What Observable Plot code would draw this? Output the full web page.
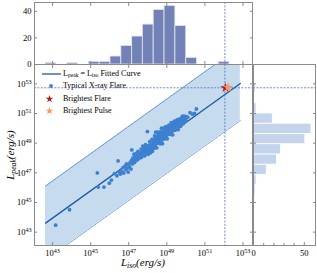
<!DOCTYPE html>
<html><head><meta charset="utf-8">
<script src="https://cdn.jsdelivr.net/npm/d3@7"></script>
<script src="https://cdn.jsdelivr.net/npm/@observablehq/plot@0.6"></script>
<style>
body{margin:0;background:#fff;}
#wrap{position:relative;width:317px;height:273px;font-family:"Liberation Serif",serif;color:#000;overflow:hidden;}
#wrap > svg{position:absolute;left:0;top:0;}
.lbl{position:absolute;font-style:italic;font-size:11px;white-space:nowrap;line-height:12px;text-align:center;}
.lbl sub,.leg sub{font-size:0.7em;vertical-align:-0.25em;line-height:0;}
.leg{position:absolute;left:40px;top:68px;font-size:8px;line-height:12.3px;white-space:nowrap;}
.leg .row{display:flex;align-items:center;height:12.3px;}
.leg svg{width:23px;height:12px;flex:none;}
</style></head>
<body><div id="wrap"></div>
<script>
// ---- data (log10 values, erg/s) ----
const xTicks = [43, 45, 47, 49, 51, 53];
const yTicks = [43, 45, 47, 49, 51, 53];
const topCountTicks = [0, 20, 40];
const rightCountTicks = [0, 50];
const rightMinorTicks = [10, 20, 30, 40];

const logIso = [
43.16,43.89,45.35,45.40,45.70,45.98,
46.09,46.25,46.38,46.44,46.50,46.56,
46.65,46.70,46.74,46.80,46.85,46.88,46.92,46.97,47.00,47.04,47.08,47.12,47.16,47.15,
47.20,47.22,47.25,47.28,47.31,47.34,47.37,47.40,47.43,47.46,47.49,47.51,47.54,47.57,47.60,47.62,47.65,47.67,47.70,47.72,47.74,
47.76,47.78,47.80,47.82,47.84,47.86,47.88,47.90,47.92,47.94,47.96,47.98,48.00,48.02,48.04,48.06,48.08,48.10,48.12,48.14,48.16,48.18,48.20,48.22,48.24,48.25,48.27,48.28,48.29,48.30,
48.32,48.33,48.35,48.36,48.38,48.39,48.41,48.42,48.44,48.45,48.47,48.48,48.50,48.51,48.53,48.54,48.56,48.57,48.59,48.60,48.62,48.63,48.65,48.66,48.68,48.69,48.71,48.72,48.74,48.75,48.77,48.78,48.80,48.81,48.83,48.84,48.85,48.86,48.87,48.87,48.88,
48.89,48.90,48.91,48.93,48.94,48.95,48.96,48.98,48.99,49.00,49.02,49.03,49.04,49.06,49.07,49.08,49.10,49.11,49.12,49.14,49.15,49.16,49.18,49.19,49.20,49.22,49.23,49.24,49.26,49.27,49.28,49.30,49.31,49.32,49.34,49.35,49.36,49.38,49.39,49.40,49.41,49.42,49.43,49.44,
49.46,49.48,49.50,49.52,49.54,49.56,49.58,49.60,49.62,49.64,49.66,49.68,49.70,49.72,49.74,49.76,49.78,49.80,49.82,49.84,49.86,49.88,49.90,49.92,49.94,49.96,49.98,50.00,50.01,
50.10,50.22,50.35,50.45,50.55
];
const logPeak = [
43.47,44.51,46.99,46.04,46.04,46.30,
46.51,46.95,46.80,47.80,47.05,46.92,
47.10,47.35,46.98,47.45,47.20,47.60,47.30,47.05,47.55,47.40,47.70,47.25,48.54,47.85,
47.60,48.00,47.80,48.25,47.70,48.05,47.90,48.30,47.85,48.10,48.45,47.95,48.20,48.00,48.35,48.15,48.60,48.05,48.40,48.25,48.80,
48.20,48.55,48.35,48.70,48.15,48.45,48.90,48.30,48.60,48.40,48.75,49.78,48.50,48.25,48.65,48.85,48.45,49.10,48.60,48.35,48.75,48.95,48.55,49.25,48.70,48.45,48.90,49.05,48.65,48.80,
48.94,49.25,48.67,49.48,49.10,48.81,49.23,49.74,48.96,49.46,48.68,49.24,49.46,49.17,49.74,49.00,49.42,49.62,49.14,49.30,49.22,49.53,48.95,49.76,49.38,49.09,49.50,50.01,49.23,49.74,48.96,49.52,49.74,49.45,50.01,49.27,49.68,49.89,49.40,49.55,49.66,
49.67,49.38,49.89,49.61,50.11,49.32,49.83,49.55,50.06,49.72,49.29,49.95,49.66,49.88,50.08,49.59,49.86,50.22,49.78,50.00,49.61,50.12,49.94,49.65,50.15,49.87,50.38,49.59,50.11,49.82,50.33,50.00,49.56,50.21,49.93,50.14,50.35,49.87,50.13,50.49,50.05,50.26,49.87,50.38,
50.09,50.41,49.93,50.30,50.57,50.14,50.40,49.92,50.34,50.61,50.18,50.55,50.36,50.13,50.65,50.47,50.34,50.61,50.82,50.44,50.31,50.63,50.80,50.42,50.64,50.80,50.57,50.79,50.50,
50.75,51.05,50.95,51.00,51.30
];
const flareIso = [52.08], flarePeak = [52.73];
const pulseIso = [52.22], pulsePeak = [52.76];
const refIso = [52.05], refPeak = [52.73];

const fitIso = [42.63, 52.86];
const fitPeak = [43.61, 53.02];
const bandUpper = [46.11, 55.52];
const bandLower = [41.11, 50.52];

const topBinEdges = [42.63,43.20,43.77,44.33,44.90,45.47,46.04,46.61,47.18,47.74,48.31,48.88,49.45,50.02,50.59,51.15,51.72,52.29,52.86];
const topCounts = [1,0,1,0,2,2,6,14,21,30,41,44,29,5,0,0,2,0];
const rightBinEdges = [43.41,44.10,44.79,45.48,46.17,46.86,47.55,48.24,48.93,49.62,50.31,51.00,51.69,52.38,53.07];
const rightCounts = [1,1,0,2,3,13,23,27,51,57,19,3,0,2];

// ---- tables ----
const pts = logIso.map((x, i) => ({x, y: logPeak[i]}));
const flare = flareIso.map((x, i) => ({x, y: flarePeak[i]}));
const pulse = pulseIso.map((x, i) => ({x, y: pulsePeak[i]}));
const band = fitIso.map((x, i) => ({x, fit: fitPeak[i], hi: bandUpper[i], lo: bandLower[i]}));
const topBins = topCounts.map((c, i) => ({x1: topBinEdges[i], x2: topBinEdges[i + 1], c})).filter(d => d.c > 0);
const rightBins = rightCounts.map((c, i) => ({y1: rightBinEdges[i], y2: rightBinEdges[i + 1], c})).filter(d => d.c > 0);

// ---- styles ----
const W = 317, H = 273;
const frameColor = "#8a8a8a";
const dash = {stroke: "#4f6bc2", strokeWidth: 0.8, strokeDasharray: "2,1.4"};
const common = {
  width: W, height: H,
  style: {background: "transparent", fontFamily: '"Liberation Serif", serif', fontSize: "8.5px", color: "#000", overflow: "visible"}
};
const xDom = [42.05, 53.5], yDom = [42.1, 54.3];
const pow = d => `10^${d}`;
const none = () => "";
const tickStyle = {stroke: frameColor, tickSize: -3, label: null};

const topPlot = Plot.plot({
  ...common,
  marginLeft: 34, marginRight: 65, marginTop: 2, marginBottom: 209,
  x: {domain: xDom}, y: {domain: [0, 46.6]},
  marks: [
    Plot.rectY(topBins, {x1: "x1", x2: "x2", y: "c", fill: "#7382b6", stroke: "#e4e7f2", strokeWidth: 0.8}),
    Plot.ruleX(refIso, dash),
    Plot.axisY({...tickStyle, ticks: topCountTicks, tickPadding: 6}),
    Plot.axisY({...tickStyle, anchor: "right", ticks: topCountTicks, tickFormat: none}),
    Plot.axisX({...tickStyle, ticks: xTicks, tickFormat: none}),
    Plot.axisX({...tickStyle, anchor: "top", ticks: xTicks, tickFormat: none}),
    Plot.frame({stroke: frameColor})
  ]
});

const mainPlot = Plot.plot({
  ...common,
  marginLeft: 34, marginRight: 65, marginTop: 64, marginBottom: 28,
  x: {domain: xDom}, y: {domain: yDom},
  marks: [
    Plot.areaY(band, {x: "x", y1: "lo", y2: "hi", fill: "#c7dbef", clip: true}),
    Plot.line(band, {x: "x", y: "hi", stroke: "#3b7dd0", strokeWidth: 0.7, strokeDasharray: "2.5,1", clip: true}),
    Plot.line(band, {x: "x", y: "lo", stroke: "#3b7dd0", strokeWidth: 0.7, strokeDasharray: "2.5,1", clip: true}),
    Plot.line(band, {x: "x", y: "fit", stroke: "#1a5aa6", strokeWidth: 1.3, clip: true}),
    Plot.dot(pts, {x: "x", y: "y", r: 1.9, fill: "#3d80cf"}),
    Plot.ruleX(refIso, dash),
    Plot.ruleY(refPeak, dash),
    Plot.dot(flare, {x: "x", y: "y", symbol: "star", r: 3.2, fill: "#a52222"}),
    Plot.dot(pulse, {x: "x", y: "y", symbol: "star", r: 3.2, fill: "#f49a5e"}),
    Plot.axisX({...tickStyle, ticks: xTicks, tickFormat: pow, tickPadding: 7}),
    Plot.axisX({...tickStyle, anchor: "top", ticks: xTicks, tickFormat: none}),
    Plot.axisY({...tickStyle, ticks: yTicks, tickFormat: pow, tickPadding: 6}),
    Plot.axisY({...tickStyle, anchor: "right", ticks: yTicks, tickFormat: none}),
    Plot.frame({stroke: frameColor})
  ]
});

const rightPlot = Plot.plot({
  ...common,
  marginLeft: 253, marginRight: 2, marginTop: 64, marginBottom: 28,
  x: {domain: [0, 61]}, y: {domain: yDom},
  marks: [
    Plot.rectX(rightBins, {y1: "y1", y2: "y2", x: "c", fill: "#c3d4ec", stroke: "#ffffff", strokeWidth: 0.8}),
    Plot.ruleY(refPeak, dash),
    Plot.axisX({...tickStyle, ticks: rightCountTicks, tickPadding: 7}),
    Plot.axisX({...tickStyle, ticks: rightMinorTicks, tickSize: -2, tickFormat: none}),
    Plot.axisY({...tickStyle, ticks: yTicks, tickFormat: none}),
    Plot.axisY({...tickStyle, anchor: "right", ticks: yTicks, tickFormat: none}),
    Plot.frame({stroke: frameColor})
  ]
});

function superscripts(svg) {
  d3.select(svg).selectAll("text").each(function () {
    const m = /^10\^(-?\d+)$/.exec(this.textContent);
    if (!m) return;
    const t = d3.select(this);
    t.text(null);
    t.append("tspan").text("10");
    t.append("tspan").attr("dy", "-0.45em").attr("font-size", "0.72em").text(m[1]);
  });
}
superscripts(mainPlot);

const wrap = document.getElementById("wrap");
for (const svg of [topPlot, rightPlot, mainPlot]) {
  svg.style.position = "absolute";
  svg.style.left = "0px";
  svg.style.top = "0px";
  svg.style.maxWidth = "none";
  wrap.append(svg);
}

// axis titles
const xl = document.createElement("div");
xl.className = "lbl";
xl.style.left = "34px"; xl.style.width = "218px"; xl.style.top = "256px";
xl.innerHTML = "L<sub>iso</sub>(erg/s)";
wrap.append(xl);
const yl = document.createElement("div");
yl.className = "lbl";
yl.style.left = "-65px"; yl.style.width = "150px"; yl.style.top = "149px";
yl.style.transform = "rotate(-90deg)";
yl.innerHTML = "L<sub>peak</sub>(erg/s)";
wrap.append(yl);

// legend
const starPath = d3.symbol(d3.symbolStar, Math.PI * 2.4 * 2.4)();
const legendItems = [
  {sym: `<line x1="2" x2="21" y1="6" y2="6" stroke="#1a5aa6" stroke-width="1.3"/>`, text: "L<sub>peak</sub> = L<sub>iso</sub> Fitted Curve"},
  {sym: `<circle cx="11" cy="6" r="1.9" fill="#3d80cf"/>`, text: "Typical X-ray Flare"},
  {sym: `<path transform="translate(9.5,6)" d="${starPath}" fill="#a52222"/>`, text: "Brightest Flare"},
  {sym: `<path transform="translate(9.5,6)" d="${starPath}" fill="#f49a5e"/>`, text: "Brightest Pulse"}
];
const leg = document.createElement("div");
leg.className = "leg";
leg.innerHTML = legendItems.map(d => `<div class="row"><svg viewBox="0 0 23 12">${d.sym}</svg><span>${d.text}</span></div>`).join("");
wrap.insertBefore(leg, mainPlot);
</script></body></html>
